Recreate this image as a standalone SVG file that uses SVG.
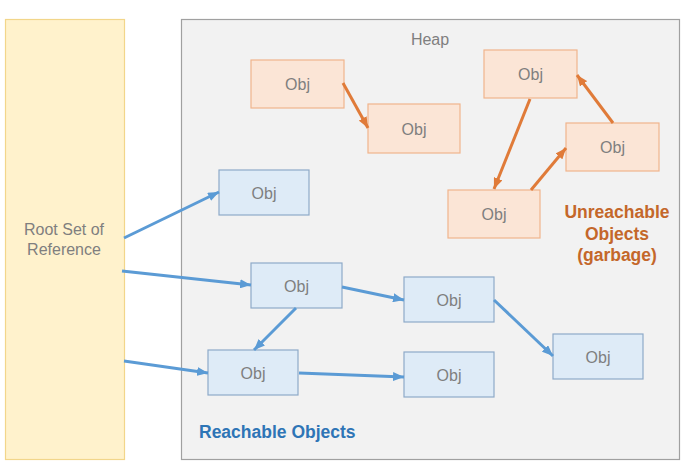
<svg xmlns="http://www.w3.org/2000/svg" width="692" height="475" viewBox="0 0 692 475">
<defs>
<style>
.txt{font-family:"Liberation Sans",Arial,sans-serif;font-size:16px;fill:#7f7f7f;text-anchor:middle}
.orange rect{fill:#fbe5d6;stroke:#f0b48c;stroke-width:1.2}
.blue rect{fill:#deebf7;stroke:#8eaac8;stroke-width:1.2}
.ab{stroke:#5b9bd5;stroke-width:3;fill:none;marker-end:url(#hb)}
.ao{stroke:#e07b39;stroke-width:3;fill:none;marker-end:url(#ho)}
</style>
<marker id="hb" viewBox="0 0 11 9" refX="11" refY="4.5" markerWidth="11" markerHeight="9" markerUnits="userSpaceOnUse" orient="auto"><path d="M0,0L11,4.5L0,9z" fill="#5b9bd5"/></marker>
<marker id="ho" viewBox="0 0 11 9" refX="11" refY="4.5" markerWidth="11" markerHeight="9" markerUnits="userSpaceOnUse" orient="auto"><path d="M0,0L11,4.5L0,9z" fill="#e07b39"/></marker>
</defs>
<rect width="692" height="475" fill="#ffffff"/>
<g id="root">
<rect x="5.5" y="19.5" width="119" height="440" fill="#fff2cc" stroke="#f2d68a" stroke-width="1.2"/>
<text class="txt" x="64" y="235">Root Set of</text>
<text class="txt" x="64" y="255">Reference</text>
</g>
<g id="heap">
<rect x="181.5" y="19.5" width="498" height="440" fill="#f2f2f2" stroke="#a0a0a0" stroke-width="1.2"/>
<text class="txt" x="430" y="45">Heap</text>
</g>
<g id="o1" class="orange"><rect x="251" y="60" width="93" height="48"/><text class="txt" x="297.5" y="90">Obj</text></g>
<g id="o2" class="orange"><rect x="368" y="104" width="92" height="49"/><text class="txt" x="414" y="134.5">Obj</text></g>
<g id="o3" class="orange"><rect x="484" y="50" width="93" height="48"/><text class="txt" x="530.5" y="80">Obj</text></g>
<g id="o4" class="orange"><rect x="566" y="123" width="93" height="48"/><text class="txt" x="612.5" y="153">Obj</text></g>
<g id="o5" class="orange"><rect x="448" y="190" width="92" height="48"/><text class="txt" x="494" y="220">Obj</text></g>
<g id="b1" class="blue"><rect x="219" y="170" width="90" height="45"/><text class="txt" x="264" y="198.5">Obj</text></g>
<g id="b2" class="blue"><rect x="251" y="263" width="91" height="45"/><text class="txt" x="296.5" y="291.5">Obj</text></g>
<g id="b3" class="blue"><rect x="208" y="350" width="90" height="45"/><text class="txt" x="253" y="378.5">Obj</text></g>
<g id="b4" class="blue"><rect x="404" y="277" width="90" height="45"/><text class="txt" x="449" y="305.5">Obj</text></g>
<g id="b5" class="blue"><rect x="404" y="352" width="90" height="45"/><text class="txt" x="449" y="380.5">Obj</text></g>
<g id="b6" class="blue"><rect x="553" y="334" width="90" height="45"/><text class="txt" x="598" y="362.5">Obj</text></g>
<g id="connectors">
<line class="ab" x1="124" y1="238" x2="219" y2="192"/>
<line class="ab" x1="122" y1="271" x2="251" y2="285"/>
<line class="ab" x1="124" y1="361" x2="208" y2="373"/>
<line class="ab" x1="296" y1="308" x2="254" y2="350"/>
<line class="ab" x1="342" y1="287" x2="404" y2="300"/>
<line class="ab" x1="299" y1="373" x2="404" y2="377"/>
<line class="ab" x1="494" y1="300" x2="553" y2="356"/>
<line class="ao" x1="343" y1="83" x2="368" y2="128"/>
<line class="ao" x1="530" y1="99" x2="494" y2="189"/>
<line class="ao" x1="531" y1="190" x2="566" y2="148"/>
<line class="ao" x1="613" y1="123" x2="577" y2="75"/>
</g>
<g id="labels" style="font-family:'Liberation Sans',Arial,sans-serif;font-weight:bold;font-size:17.5px">
<g fill="#c4672a" text-anchor="middle">
<text x="617" y="218">Unreachable</text>
<text x="617" y="240">Objects</text>
<text x="617" y="261">(garbage)</text>
</g>
<text x="199" y="438" fill="#2e75b6">Reachable Objects</text>
</g>
</svg>
